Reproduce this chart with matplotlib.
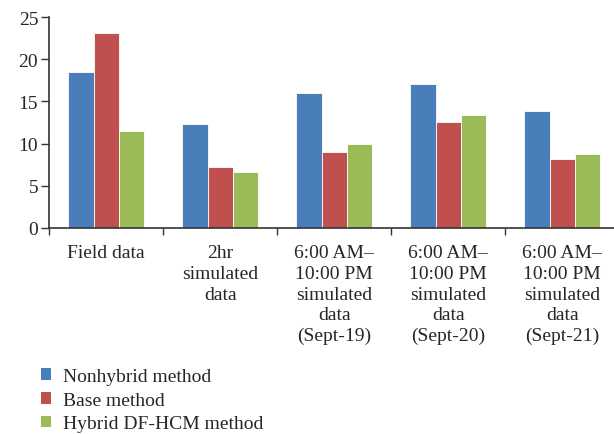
import matplotlib.pyplot as plt
import numpy as np
from matplotlib.patches import Patch

categories = ['Field data',
              '2hr\nsimulated\ndata',
              '6:00 AM\u2013\n10:00 PM\nsimulated\ndata\n(Sept-19)',
              '6:00 AM\u2013\n10:00 PM\nsimulated\ndata\n(Sept-20)',
              '6:00 AM\u2013\n10:00 PM\nsimulated\ndata\n(Sept-21)']
nonhybrid = [18.45, 12.28, 15.96, 17.07, 13.86]
base = [23.16, 7.17, 8.95, 12.55, 8.16]
hybrid = [11.45, 6.58, 9.98, 13.38, 8.71]
series_names = ['Nonhybrid method', 'Base method', 'Hybrid DF-HCM method']
colors = ['#4a7ebb', '#c0504d', '#9bbb59']

plt.rcParams['font.family'] = ['Liberation Serif', 'DejaVu Serif']
text_color = '#262626'
axis_color = '#333333'

fig = plt.figure(figsize=(6.14, 4.35), dpi=100)
ax = fig.add_axes([49.3 / 614, 206.3 / 435, 570 / 614, 210.4 / 435])

x = np.arange(len(categories))
width = 0.222
for i, vals in enumerate([nonhybrid, base, hybrid]):
    ax.bar(x + (i - 1) * width, vals, width, color=colors[i],
           edgecolor='white', linewidth=0.6)

ax.set_xlim(-0.5, len(categories) - 0.5)
ax.set_ylim(0, 25)
ax.set_yticks([0, 5, 10, 15, 20, 25])

# tick marks at group boundaries, labels at group centres
ax.set_xticks(np.arange(len(categories) + 1) - 0.5)
ax.set_xticklabels([])
ax.set_xticks(x, minor=True)
ax.set_xticklabels(categories, minor=True, linespacing=1.28)
ax.tick_params(axis='x', which='major', length=5, width=1, color=axis_color)
ax.tick_params(axis='x', which='minor', length=0, pad=12, labelsize=14,
               labelcolor=text_color)
ax.tick_params(axis='y', length=6, width=1, color=axis_color, pad=2,
               labelsize=14, labelcolor=text_color)

for side in ['top', 'right']:
    ax.spines[side].set_visible(False)
for side in ['left', 'bottom']:
    ax.spines[side].set_color(axis_color)
    ax.spines[side].set_linewidth(1.2)

handles = [Patch(facecolor=c, edgecolor='none') for c in colors]
fig.legend(handles, series_names, loc='upper left',
           bbox_to_anchor=(33 / 614, 1 - 361 / 435), frameon=False,
           fontsize=14, handlelength=0.55, handleheight=0.55,
           handletextpad=0.6, labelspacing=0.35, borderaxespad=0,
           labelcolor=text_color)

fig.savefig('out.png', dpi=100)
